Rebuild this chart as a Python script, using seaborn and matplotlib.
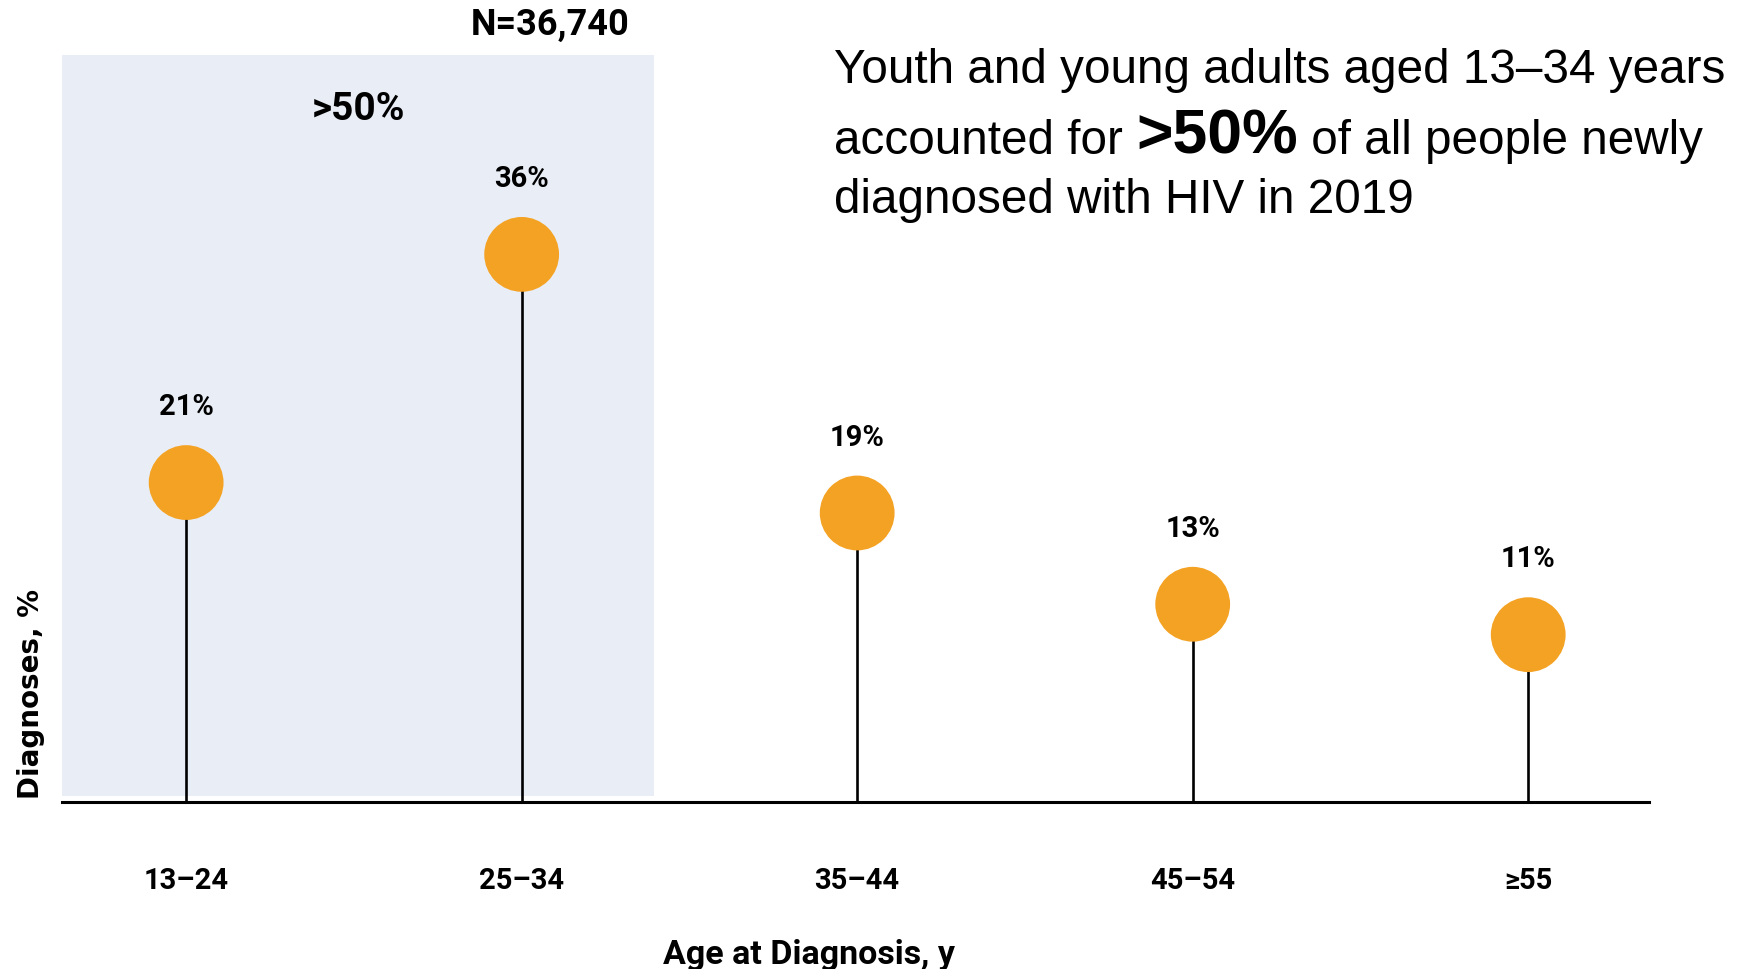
import numpy as np
import pandas as pd
import matplotlib
matplotlib.use('Agg')
import matplotlib.pyplot as plt
import seaborn as sns
from matplotlib import font_manager

# data
age_groups = ['13–24', '25–34', '35–44', '45–54', '≥55']
diagnoses_pct = [21, 36, 19, 13, 11]
pct_labels = ['21%', '36%', '19%', '13%', '11%']
total_n = 'N=36,740'
youth_share = '>50%'

W, H = 1744, 970
DOT = '#F4A223'
SHADE = '#E9EEF6'

sns.set_style('white')
names = {f.name for f in font_manager.fontManager.ttflist}
BOLDF = [f for f in ['Roboto', 'Liberation Sans Narrow', 'DejaVu Sans'] if f in names]
ARIAL = ['Liberation Sans', 'DejaVu Sans']
plt.rcParams['font.family'] = ARIAL
plt.rcParams['text.color'] = 'black'

df = pd.DataFrame({'age': age_groups, 'pct': diagnoses_pct})
df['pos'] = np.arange(len(df))

fig = plt.figure(figsize=(W / 100, H / 100), dpi=100)
ax = fig.add_axes([62 / W, (H - 803) / H, 1587 / W, 791 / H])

ax.set_xlim(-0.37, 4.36)
ax.set_ylim(0, 52)

# shaded youth block (13-34)
ax.axvspan(-0.39, 1.394, ymin=0.007, ymax=49.1 / 52, color=SHADE, lw=0, zorder=0)

# stems + dots
ax.vlines(df['pos'], 0, df['pct'], color='black', lw=1.9, zorder=2)
sns.scatterplot(data=df, x='pos', y='pct', s=2900, color=DOT, edgecolor='none',
                zorder=3, ax=ax, legend=False)

for x, y, lab in zip(df['pos'], df['pct'], pct_labels):
    ax.annotate(lab, (x, y), xytext=(0, 55), textcoords='offset points',
                ha='center', va='center', fontsize=21, fontweight='bold',
                family=BOLDF)

sns.despine(ax=ax, left=True, top=True, right=True)
ax.spines['bottom'].set_linewidth(2.2)
ax.spines['bottom'].set_color('black')
ax.set_yticks([])
ax.set_xticks(df['pos'])
ax.set_xticklabels(age_groups, fontsize=21, fontweight='bold', family=BOLDF,
                   color='black')
ax.tick_params(axis='x', length=0, pad=46)

ax.set_xlabel('Age at Diagnosis, y', fontsize=24.5, fontweight='bold', family=BOLDF,
              color='black')
ax.xaxis.set_label_coords((809 - 62) / 1587, -0.172)
ax.set_ylabel('')
fig.text(31 / W, 1 - 694 / H, 'Diagnoses, %', rotation=90, ha='center', va='center',
         fontsize=20, fontweight='bold', family=['DejaVu Sans'])

fig.text(550 / W, 1 - 25 / H, total_n, ha='center', va='center', fontsize=26,
         fontweight='bold', family=BOLDF)
fig.text(358 / W, 1 - 109 / H, youth_share, ha='center', va='center', fontsize=28,
         fontweight='bold', family=BOLDF)

# callout text, third piece placed after measuring the first two
x0 = 834 / W
fig.text(x0, 1 - 83 / H, 'Youth and young adults aged 13–34 years', fontsize=34.3,
         va='baseline', ha='left')
fig.text(x0, 1 - 213 / H, 'diagnosed with HIV in 2019', fontsize=34.3,
         va='baseline', ha='left')
renderer = fig.canvas.get_renderer()
y2 = 1 - 154 / H
t1 = fig.text(x0, y2, 'accounted for ', fontsize=34.3, va='baseline', ha='left')
x1 = t1.get_window_extent(renderer).x1 / W
t2 = fig.text(x1, y2, youth_share, fontsize=45, fontweight='bold', va='baseline', ha='left')
x2 = t2.get_window_extent(renderer).x1 / W
fig.text(x2, y2, ' of all people newly', fontsize=34.3, va='baseline', ha='left')

fig.savefig('out.png', dpi=100)
